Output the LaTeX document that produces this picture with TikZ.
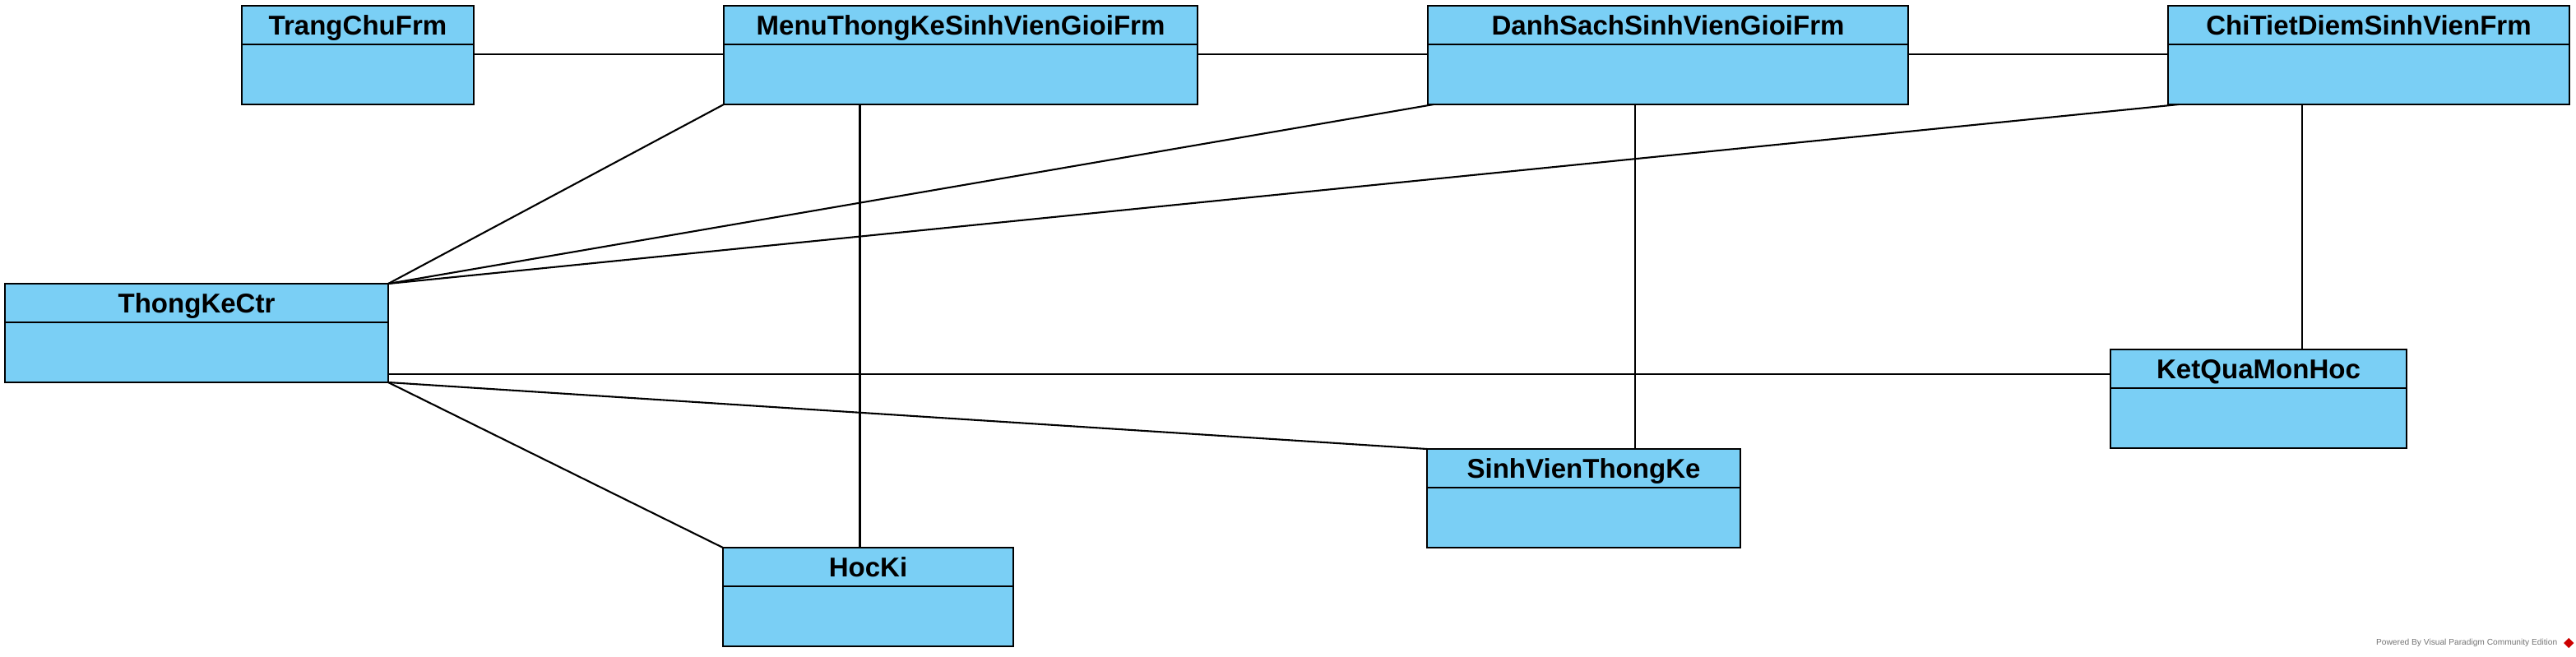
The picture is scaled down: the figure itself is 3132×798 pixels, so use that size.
\documentclass[tikz,border=0pt]{standalone}
\usepackage{fontspec}
\setmainfont{Liberation Sans}
\usepackage{tikz}
\usetikzlibrary{positioning, shapes.geometric}
\definecolor{clsblue}{RGB}{122,207,245}

\tikzset{
  cls/.style={draw, line width=0.8pt, fill=clsblue, inner sep=0pt, outer sep=0pt, anchor=north west},
  clshead/.style={cls, minimum height=4.7mm, text height=2.4mm, text depth=0pt, font=\bfseries\fontsize{9.4}{11}\selectfont},
  clsbody/.style={cls, minimum height=7.3mm},
  assoc/.style={line width=0.6pt}
}

\begin{document}
\begin{tikzpicture}[x=0.1mm, y=-0.1mm]
  \useasboundingbox (0,0) rectangle (3132,798);

  % --- Hàng trên: các form ---
  \node[clshead, minimum width=28.2mm] (trang) at (294,7) {TrangChuFrm};
  \node[clsbody, minimum width=28.2mm] (trangb) at (trang.south west) {};

  \node[clshead, minimum width=57.6mm] (menu) at (880,7) {MenuThongKeSinhVienGioiFrm};
  \node[clsbody, minimum width=57.6mm] (menub) at (menu.south west) {};

  \node[clshead, minimum width=58.4mm] (ds) at (1736,7) {DanhSachSinhVienGioiFrm};
  \node[clsbody, minimum width=58.4mm] (dsb) at (ds.south west) {};

  \node[clshead, minimum width=48.8mm] (ct) at (2636,7) {ChiTietDiemSinhVienFrm};
  \node[clsbody, minimum width=48.8mm] (ctb) at (ct.south west) {};

  % --- Điều khiển và thực thể ---
  \node[clshead, minimum width=46.6mm] (tk) at (6,345) {ThongKeCtr};
  \node[clsbody, minimum width=46.6mm] (tkb) at (tk.south west) {};

  \node[clshead, minimum width=36mm] (kq) at (2566,425) {KetQuaMonHoc};
  \node[clsbody, minimum width=36mm] (kqb) at (kq.south west) {};

  \node[clshead, minimum width=38.1mm] (sv) at (1735,546) {SinhVienThongKe};
  \node[clsbody, minimum width=38.1mm] (svb) at (sv.south west) {};

  \node[clshead, minimum width=35.3mm] (hk) at (879,666) {HocKi};
  \node[clsbody, minimum width=35.3mm] (hkb) at (hk.south west) {};

  % --- Liên kết giữa các form ---
  \draw[assoc] ([yshift=-1.2mm]trangb.north east) -- ([yshift=-1.2mm]menub.north west);
  \draw[assoc] ([yshift=-1.2mm]menub.north east) -- ([yshift=-1.2mm]dsb.north west);
  \draw[assoc] ([yshift=-1.2mm]dsb.north east) -- ([yshift=-1.2mm]ctb.north west);

  % --- Form -> ThongKeCtr ---
  \draw[assoc] (menub.south west) -- (tk.north east);
  \draw[assoc] ([xshift=0.7mm]dsb.south west) -- (tk.north east);
  \draw[assoc] ([xshift=1.3mm]ctb.south west) -- (tk.north east);

  % --- Form -> thực thể ---
  \draw[assoc] ([xshift=-1mm]hk.north |- menub.south) -- ([xshift=-1mm]hk.north);
  \draw[assoc] ([xshift=-4mm]dsb.south) -- ([xshift=-4mm]dsb.south |- sv.north);
  \draw[assoc] ([xshift=-8.1mm]ctb.south) -- ([xshift=-8.1mm]ctb.south |- kq.north);

  % --- ThongKeCtr -> thực thể ---
  \draw[assoc] ([yshift=1mm]tkb.south east) -- ([yshift=1mm]tkb.south east -| kq.west);
  \draw[assoc] (tkb.south east) -- (sv.north west);
  \draw[assoc] (tkb.south east) -- (hk.north west);

  % --- Chân trang ---
  \node[anchor=east, text=black!55, font=\fontsize{2.9}{3}\selectfont, inner sep=0pt] (vp) at (3110,782) {Powered By Visual Paradigm Community Edition};
  \node[diamond, fill=red!80!black, inner sep=0pt, minimum size=1.3mm, right=0.6mm of vp] (vplogo) {};

\end{tikzpicture}
\end{document}
